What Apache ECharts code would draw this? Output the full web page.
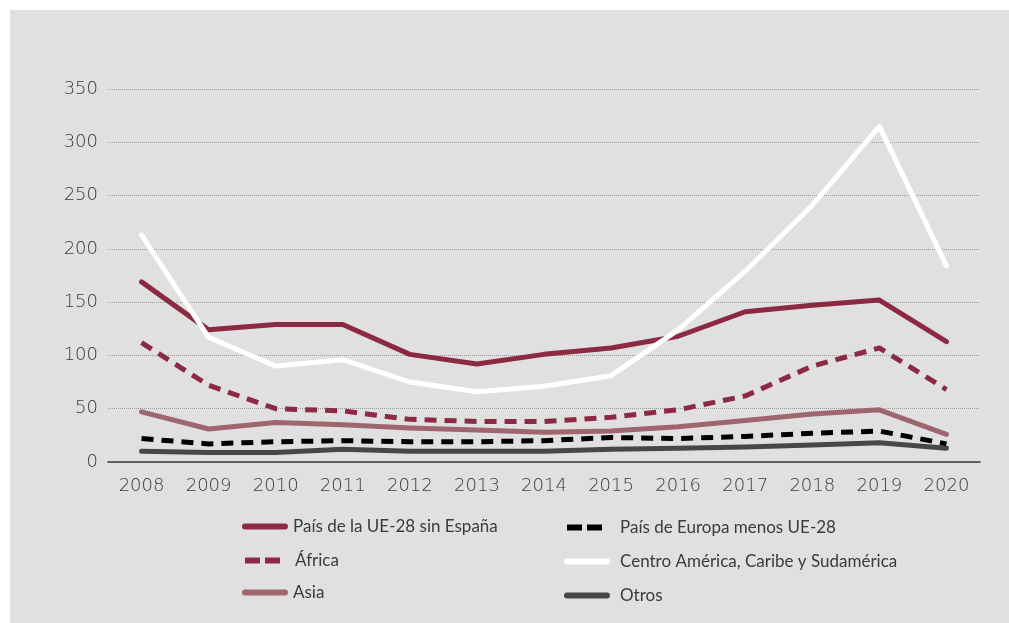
<!DOCTYPE html>
<html>
<head>
<meta charset="utf-8">
<script src="https://cdn.jsdelivr.net/npm/echarts@6/dist/echarts.min.js"></script>
<style>
html,body{margin:0;padding:0;background:#ffffff;}
#bg{position:absolute;left:10px;top:10px;width:999px;height:613px;background:#e0e0e0;}
#chart{position:absolute;left:0;top:0;width:1009px;height:623px;}
</style>
</head>
<body>
<div id="bg"></div>
<div id="chart"></div>
<script>
const years = ['2008','2009','2010','2011','2012','2013','2014','2015','2016','2017','2018','2019','2020'];
const yTicks = [0, 50, 100, 150, 200, 250, 300, 350];
const ue28 = [169, 124, 129, 129, 101, 92, 101, 107, 118, 141, 147, 152, 113];
const africa = [112, 72, 50, 48, 40, 38, 38, 42, 49, 62, 90, 107, 68];
const asia = [47, 31, 37, 35, 32, 30, 28, 29, 33, 39, 45, 49, 26];
const europaNoUE = [22, 17, 19, 20, 19, 19, 20, 23, 22, 24, 27, 29, 17];
const centroAmerica = [213, 117, 90, 96, 75, 66, 71, 81, 124, 179, 241, 315, 184];
const otros = [10, 9, 9, 12, 10, 10, 10, 12, 13, 14, 16, 18, 13];

const names = {
  ue28: 'País de la UE-28 sin España',
  africa: 'África',
  asia: 'Asia',
  eu: 'País de Europa menos UE-28',
  centro: 'Centro América, Caribe y Sudamérica',
  otros: 'Otros'
};

const colors = {
  ue28: '#8b2a42', africa: '#8b2a42', asia: '#a0666f',
  eu: '#000000', centro: '#ffffff', otros: '#474747'
};

const FONT = 'Lato';
const NUMFONT = '"DejaVu Sans"';
const chart = echarts.init(document.getElementById('chart'), null, {renderer: 'canvas'});

function line(key, data, dashed) {
  return {
    name: names[key],
    type: 'line',
    data: data,
    symbol: 'none',
    smooth: false,
    lineStyle: {color: colors[key], width: 5, type: dashed ? [12, 8] : 'solid', cap: dashed ? 'butt' : 'round', join: 'round'},
    itemStyle: {color: colors[key]},
    emphasis: {disabled: true},
    animation: false
  };
}

// icon shapes; a tiny invisible-size point at the right end sets the icon box width
function solidIcon(w) {
  return 'path://M3,0H43A3,3 0 0 1 43,6H3A3,3 0 0 1 3,0Z M0,3h0.01v0.01h-0.01z M' + w + ',3h0.01v0.01h-0.01z';
}
function dashIcon(w) {
  return 'path://M3,0h15v6h-15z M23,0h15v6h-15z M0,3h0.01v0.01h-0.01z M' + w + ',3h0.01v0.01h-0.01z';
}

const legendText = {fontFamily: FONT, fontSize: 17, color: '#3a3a3a'};

function legendItem(key, left, top, dashed, w) {
  return {
    left: left, top: top, itemWidth: w, itemHeight: 6,
    selectedMode: false,
    data: [{name: names[key], icon: dashed ? dashIcon(w) : solidIcon(w),
            itemStyle: {color: colors[key], borderWidth: 0},
            lineStyle: {width: 0}}],
    itemStyle: {borderWidth: 0},
    lineStyle: {width: 0},
    textStyle: legendText
  };
}

chart.setOption({
  backgroundColor: 'transparent',
  animation: false,
  grid: {left: 108, right: 29, top: 89, bottom: 161, containLabel: false},
  legend: [
    legendItem('ue28', 237, 513, false, 46),
    legendItem('africa', 237, 547, true, 48),
    legendItem('asia', 237, 579, false, 46),
    legendItem('eu', 559, 514, true, 51),
    legendItem('centro', 559, 548, false, 51),
    legendItem('otros', 559, 582, false, 51)
  ],
  xAxis: {
    type: 'category',
    data: years,
    boundaryGap: true,
    axisLine: {show: true, lineStyle: {color: '#3a3a3a', width: 1.5}},
    axisTick: {show: false},
    axisLabel: {fontFamily: NUMFONT, fontSize: 18, fontWeight: 200, color: '#3a3a3a', margin: 15}
  },
  yAxis: {
    type: 'value',
    min: yTicks[0],
    max: yTicks[yTicks.length - 1],
    interval: yTicks[1] - yTicks[0],
    axisLine: {show: false},
    axisTick: {show: false},
    axisLabel: {fontFamily: NUMFONT, fontSize: 18, fontWeight: 200, color: '#3a3a3a', margin: 10},
    splitLine: {show: true, lineStyle: {color: '#9a9a9a', width: 1, type: [1, 1]}}
  },
  series: [
    line('otros', otros, false),
    line('eu', europaNoUE, true),
    line('asia', asia, false),
    line('africa', africa, true),
    line('ue28', ue28, false),
    line('centro', centroAmerica, false)
  ]
});
</script>
</body>
</html>
